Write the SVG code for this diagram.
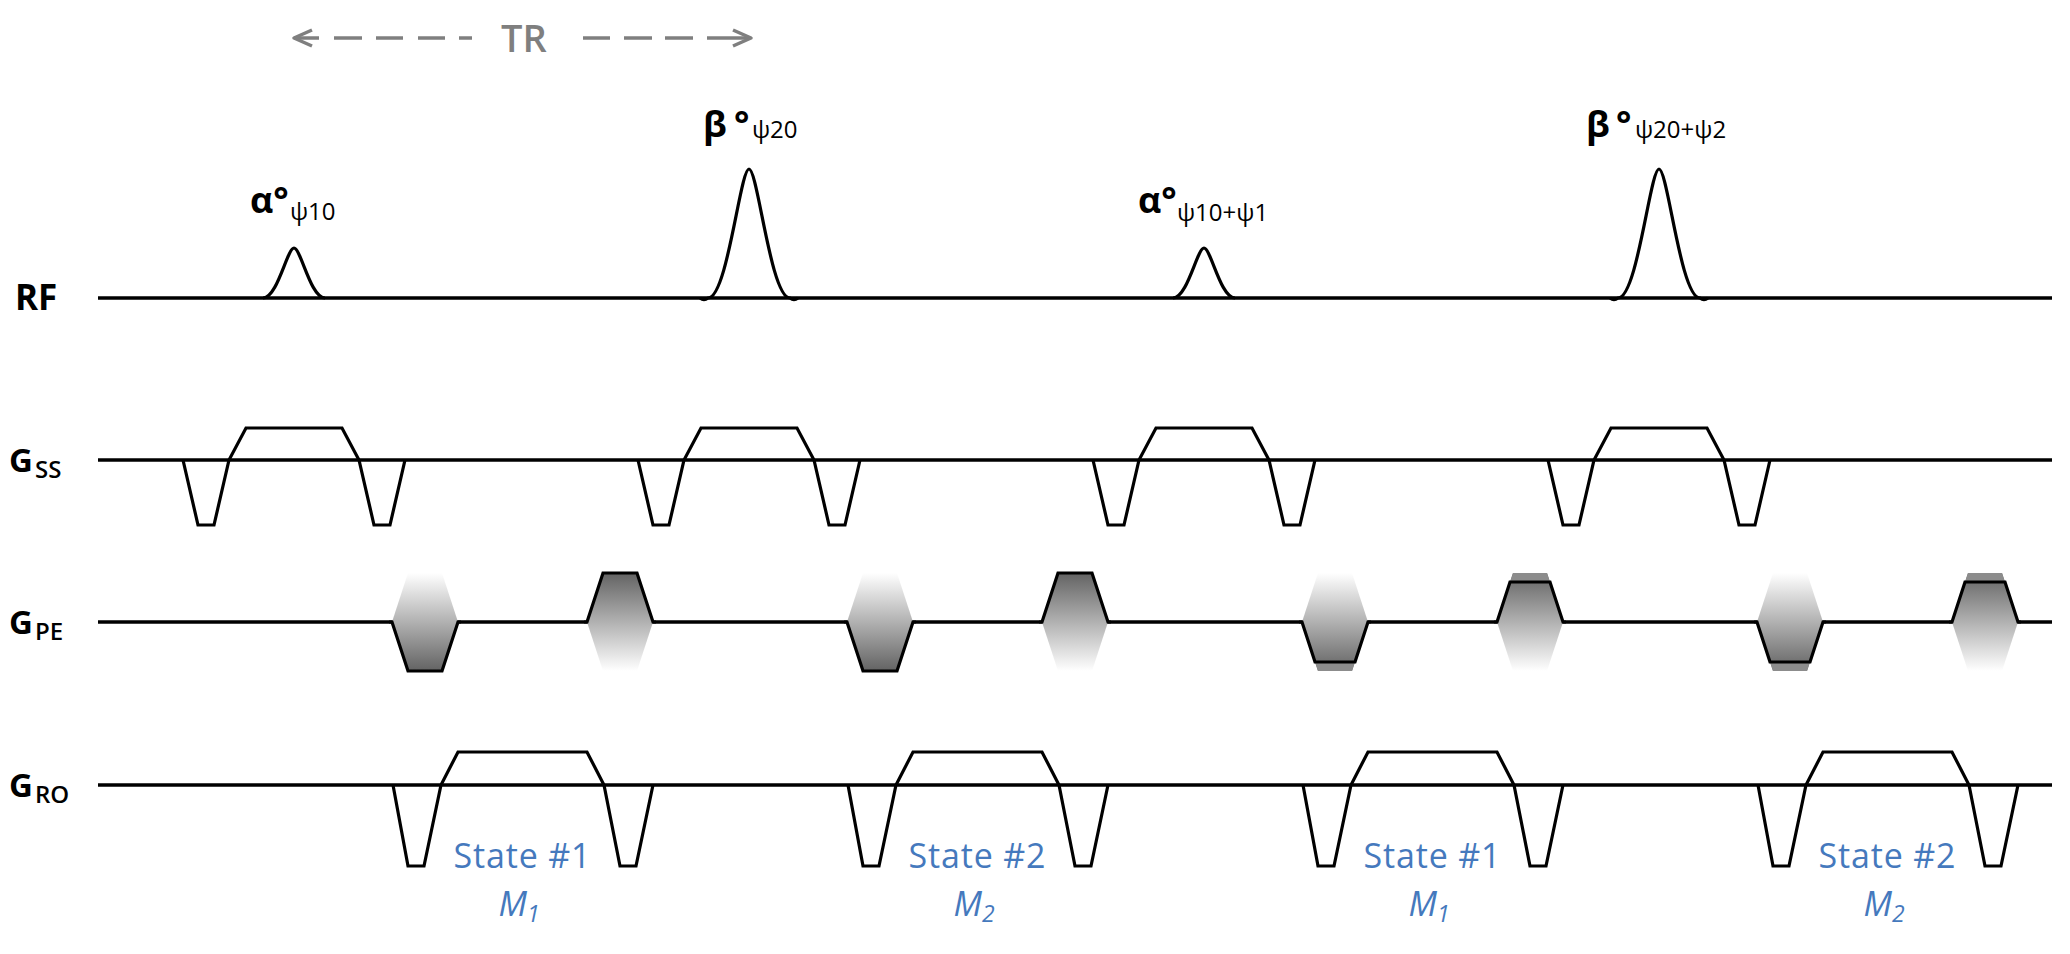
<svg xmlns="http://www.w3.org/2000/svg" width="2070" height="954" viewBox="0 0 2070 954">
<style>
.base{fill:none;stroke:#000;stroke-width:3.3}
.lbl{font-family:"Open Sans","Liberation Sans",sans-serif;font-weight:bold;fill:#000}
.lblsub{font-family:"Open Sans","Liberation Sans",sans-serif;font-weight:600;fill:#000;font-size:24px}
.pl{font-family:"Open Sans","Liberation Sans",sans-serif;fill:#000}
.tr{stroke:#7f7f7f;stroke-width:3.5;fill:none;stroke-linecap:butt;stroke-linejoin:round}
.st{font-family:"Open Sans","Liberation Sans",sans-serif;fill:#4579bd;font-size:34px}
</style>
<defs>
<linearGradient id="gDown" x1="0" y1="0" x2="0" y2="1"><stop offset="0" stop-color="#ffffff"/><stop offset="1" stop-color="#636363"/></linearGradient>
<linearGradient id="gUp" x1="0" y1="1" x2="0" y2="0"><stop offset="0" stop-color="#ffffff"/><stop offset="1" stop-color="#636363"/></linearGradient>
<path id="alpha" fill="none" stroke="#000" stroke-width="3.2" d="M -31,0 C -16.5,0 -6.8,-50 0,-50 C 6.8,-50 16.5,0 31,0"/>
<path id="beta" fill="none" stroke="#000" stroke-width="3.2" d="M -49,0 Q -45,3 -41,0 C -21.6,0 -8.8,-129 0,-129 C 8.8,-129 21.6,0 41,0 Q 45,3 49,0"/>
<polyline id="ss" fill="none" stroke="#000" stroke-width="3.2" points="-111,0 -96,65 -80,65 -65,0 -48,-32 48,-32 65,0 80,65 96,65 111,0"/>
<polyline id="ro" fill="none" stroke="#000" stroke-width="3.2" points="-129,0 -114,81 -98,81 -81,0 -64,-33 65,-33 82,0 98,81 114,81 131,0"/>
<g id="peN">
<polygon points="-33,0 -17,49 17,49 33,0 17,-49 -17,-49" fill="url(#gDown)"/>
<polyline fill="none" stroke="#000" stroke-width="3.2" points="-36,0 -33,0 -17,49 17,49 33,0 36,0"/>
</g>
<g id="peP">
<polygon points="-33,0 -17,49 17,49 33,0 17,-49 -17,-49" fill="url(#gUp)"/>
<polyline fill="none" stroke="#000" stroke-width="3.2" points="-36,0 -33,0 -17,-49 17,-49 33,0 36,0"/>
</g>
<g id="peN2">
<polygon points="-33,0 -17,49 17,49 33,0 17,-49 -17,-49" fill="url(#gDown)"/>
<polygon points="-20,40 -17,49 17,49 20,40" fill="#8c8c8c"/>
<polyline fill="none" stroke="#000" stroke-width="3.2" points="-36,0 -33,0 -20,40 20,40 33,0 36,0"/>
</g>
<g id="peP2">
<polygon points="-33,0 -17,49 17,49 33,0 17,-49 -17,-49" fill="url(#gUp)"/>
<polygon points="-20,-40 -17,-49 17,-49 20,-40" fill="#8c8c8c"/>
<polyline fill="none" stroke="#000" stroke-width="3.2" points="-36,0 -33,0 -20,-40 20,-40 33,0 36,0"/>
</g>
</defs>
<rect width="2070" height="954" fill="#fff"/>

<g id="tr-arrow">
<polyline class="tr" points="312,30 294,38 312,46"/>
<line class="tr" x1="294" y1="38" x2="319" y2="38"/>
<line class="tr" x1="334" y1="38" x2="362" y2="38"/>
<line class="tr" x1="376" y1="38" x2="403" y2="38"/>
<line class="tr" x1="418" y1="38" x2="445" y2="38"/>
<line class="tr" x1="459" y1="38" x2="472" y2="38"/>
<line class="tr" x1="583" y1="38" x2="610" y2="38"/>
<line class="tr" x1="624" y1="38" x2="652" y2="38"/>
<line class="tr" x1="665" y1="38" x2="693" y2="38"/>
<line class="tr" x1="707" y1="38" x2="750" y2="38"/>
<polyline class="tr" points="733,30 751,38 733,46"/>
<text x="501" y="52" font-family="Open Sans, Liberation Sans, sans-serif" font-size="38" font-weight="600" fill="#7f7f7f">TR</text>
</g>

<g id="axis-labels">
<text class="lbl" x="15" y="310" font-size="35">RF</text>
<text class="lbl" x="9" y="472" font-size="33">G<tspan class="lblsub" x="35" y="478">SS</tspan></text>
<text class="lbl" x="9" y="634" font-size="33">G<tspan class="lblsub" x="35" y="640">PE</tspan></text>
<text class="lbl" x="9" y="797" font-size="33">G<tspan class="lblsub" x="35" y="803">RO</tspan></text>
</g>

<g id="baselines">
<line class="base" x1="98" y1="298" x2="2052" y2="298"/>
<line class="base" x1="98" y1="460" x2="2052" y2="460"/>
<line class="base" x1="98" y1="622" x2="2052" y2="622"/>
<line class="base" x1="98" y1="785" x2="2052" y2="785"/>
</g>

<g id="rf">
<use href="#alpha" x="294" y="298"/>
<use href="#beta" x="749" y="298"/>
<use href="#alpha" x="1204" y="298"/>
<use href="#beta" x="1659" y="298"/>
</g>

<g id="rf-labels">
<text class="pl"><tspan x="250" y="213" font-size="36" font-weight="bold">α°</tspan><tspan x="290" y="220" font-size="24">ψ10</tspan></text>
<text class="pl"><tspan x="703" y="137" font-size="36" font-weight="bold">β</tspan><tspan x="734" y="137" font-size="36" font-weight="bold">°</tspan><tspan x="752" y="138" font-size="24">ψ20</tspan></text>
<text class="pl"><tspan x="1138" y="213" font-size="36" font-weight="bold">α°</tspan><tspan x="1177" y="221" font-size="24">ψ10+ψ1</tspan></text>
<text class="pl"><tspan x="1586" y="137" font-size="36" font-weight="bold">β</tspan><tspan x="1616" y="137" font-size="36" font-weight="bold">°</tspan><tspan x="1635" y="138" font-size="24">ψ20+ψ2</tspan></text>
</g>

<g id="gss">
<use href="#ss" x="294" y="460"/>
<use href="#ss" x="749" y="460"/>
<use href="#ss" x="1204" y="460"/>
<use href="#ss" x="1659" y="460"/>
</g>

<g id="gpe">
<use href="#peN" x="425" y="622"/>
<use href="#peP" x="620" y="622"/>
<use href="#peN" x="880" y="622"/>
<use href="#peP" x="1075" y="622"/>
<use href="#peN2" x="1335" y="622"/>
<use href="#peP2" x="1530" y="622"/>
<use href="#peN2" x="1790" y="622"/>
<use href="#peP2" x="1985" y="622"/>
</g>

<g id="gro">
<use href="#ro" x="522" y="785"/>
<use href="#ro" x="977" y="785"/>
<use href="#ro" x="1432" y="785"/>
<use href="#ro" x="1887" y="785"/>
</g>

<g id="states">
<text class="st" x="522" y="868" text-anchor="middle" textLength="137" lengthAdjust="spacing">State #1</text>
<text class="st" x="977" y="868" text-anchor="middle" textLength="137" lengthAdjust="spacing">State #2</text>
<text class="st" x="1432" y="868" text-anchor="middle" textLength="137" lengthAdjust="spacing">State #1</text>
<text class="st" x="1887" y="868" text-anchor="middle" textLength="137" lengthAdjust="spacing">State #2</text>
<text class="st" x="519" y="916" text-anchor="middle" font-style="italic">M<tspan font-size="23" dy="6">1</tspan></text>
<text class="st" x="974" y="916" text-anchor="middle" font-style="italic">M<tspan font-size="23" dy="6">2</tspan></text>
<text class="st" x="1429" y="916" text-anchor="middle" font-style="italic">M<tspan font-size="23" dy="6">1</tspan></text>
<text class="st" x="1884" y="916" text-anchor="middle" font-style="italic">M<tspan font-size="23" dy="6">2</tspan></text>
</g>
</svg>
